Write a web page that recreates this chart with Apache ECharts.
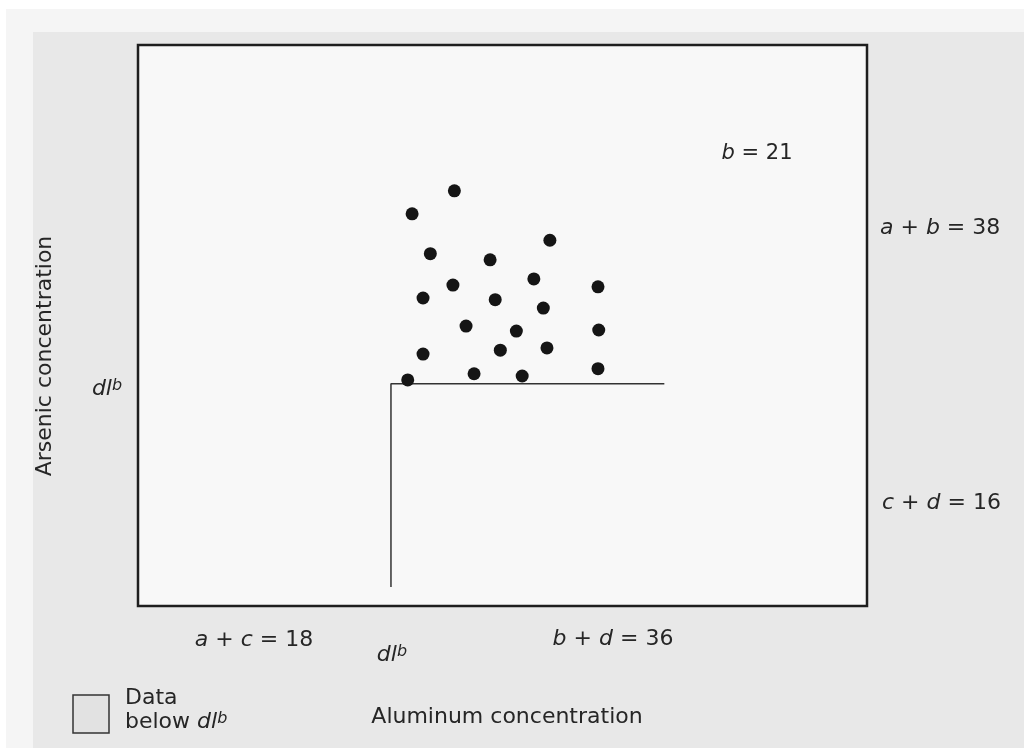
<!DOCTYPE html>
<html>
<head>
<meta charset="utf-8">
<title>Arsenic vs aluminum concentration</title>
<script src="https://cdn.jsdelivr.net/npm/echarts@6/dist/echarts.min.js"></script>
<style>
  html, body { margin: 0; padding: 0; background: #fff; }
  #chart { width: 1024px; height: 748px; }
</style>
</head>
<body>
<div id="chart"></div>
<script>
// samples above the detection limit on both axes (axes scaled 0-100)
const aluminum = [43.4, 37.6, 40.1, 48.3, 56.5, 43.2, 39.1, 49.0, 54.3, 55.6, 63.1,
  45.0, 51.9, 63.2, 39.1, 49.7, 56.1, 37.0, 46.1, 52.7, 63.1]
const arsenic = [74.0, 69.9, 62.8, 61.7, 65.2, 57.2, 54.9, 54.6, 58.3, 53.1, 56.9,
  49.9, 49.0, 49.2, 44.9, 45.6, 46.0, 40.3, 41.4, 41.0, 42.3]

// detection limits and where the guide lines stop
const dlAluminum = 34.7
const dlArsenic = 39.6
const dlLineRight = 72.2
const dlLineBottom = 3.4

// cell counts of the 2x2 table
const countA = 17
const countB = 21
const countC = 1
const countD = 15

const FONT = 'DejaVu Sans'
const INK = '#262626'

const rich = {
  i: { fontFamily: FONT, fontSize: 22, fontStyle: 'italic', fill: INK },
  n: { fontFamily: FONT, fontSize: 22, fill: INK },
  si: { fontFamily: FONT, fontSize: 21, fontStyle: 'italic', fill: INK },
  sn: { fontFamily: FONT, fontSize: 21, fill: INK },
  sup: { fontFamily: FONT, fontSize: 16, fontStyle: 'italic', fill: INK, verticalAlign: 'top' }
}

const chart = echarts.init(document.getElementById('chart'))

// text helper for graphic labels
const label = (id, x, y, text, align) => ({
  type: 'text',
  id: id,
  x: x,
  y: y,
  z: 10,
  style: {
    text: text,
    rich: rich,
    font: '22px ' + FONT,
    fill: INK,
    align: align || 'center',
    verticalAlign: 'middle'
  }
})

const option = {
  backgroundColor: '#ffffff',
  animation: false,
  grid: {
    left: 138,
    top: 45,
    right: 157,
    bottom: 142,
    show: true,
    backgroundColor: '#f8f8f8',
    borderColor: '#1e1e1e',
    borderWidth: 2.5
  },
  xAxis: {
    type: 'value',
    min: 0,
    max: 100,
    axisLine: { show: false },
    axisTick: { show: false },
    axisLabel: { show: false },
    splitLine: { show: false }
  },
  yAxis: {
    type: 'value',
    min: 0,
    max: 100,
    axisLine: { show: false },
    axisTick: { show: false },
    axisLabel: { show: false },
    splitLine: { show: false }
  },
  series: [
    {
      name: 'dl',
      type: 'line',
      symbol: 'none',
      data: [[dlLineRight, dlArsenic], [dlAluminum, dlArsenic], [dlAluminum, dlLineBottom]],
      lineStyle: { color: '#333', width: 1.5 },
      z: 3
    },
    {
      name: 'samples',
      type: 'scatter',
      symbolSize: 13,
      data: aluminum.map((v, i) => [v, arsenic[i]]),
      itemStyle: { color: '#151515', opacity: 1 },
      z: 4
    }
  ]
}
chart.setOption(option)

// place the dl labels from the axis scales
const dlPx = chart.convertToPixel({ gridIndex: 0 }, [dlAluminum, dlArsenic])
const dlText = '{i|dl}{sup|b}'

chart.setOption({
  graphic: [
    // scanned page background
    { type: 'rect', id: 'page', z: -6, shape: { x: 6, y: 9, width: 1018, height: 739 }, style: { fill: '#f5f5f5' } },
    { type: 'rect', id: 'scan', z: -5, shape: { x: 33, y: 32, width: 991, height: 716 }, style: { fill: '#e8e8e8' } },
    label('cellB', 757, 154, `{si|b}{sn| = ${countB}}`),
    label('rowTop', 880, 228, `{i|a}{n| + }{i|b}{n| = ${countA + countB}}`, 'left'),
    label('rowBottom', 882, 503, `{i|c}{n| + }{i|d}{n| = ${countC + countD}}`, 'left'),
    label('colLeft', 254, 640, `{i|a}{n| + }{i|c}{n| = ${countA + countC}}`),
    label('colRight', 613, 639, `{i|b}{n| + }{i|d}{n| = ${countB + countD}}`),
    label('dlX', dlPx[0] + 1, 655, dlText),
    label('dlY', 107, dlPx[1] + 5, dlText),
    label('xTitle', 507, 717, '{n|Aluminum concentration}'),
    {
      type: 'text',
      id: 'yTitle',
      x: 45,
      y: 356,
      rotation: Math.PI / 2,
      z: 10,
      style: {
        text: 'Arsenic concentration',
        font: '22px ' + FONT,
        fill: INK,
        align: 'center',
        verticalAlign: 'middle'
      }
    },
    // legend
    { type: 'rect', id: 'legendBox', z: 10, shape: { x: 73, y: 695, width: 36, height: 38 },
      style: { fill: '#e2e2e2', stroke: '#333', lineWidth: 1.5 } },
    label('legend1', 125, 698, '{n|Data}', 'left'),
    label('legend2', 125, 722, '{n|below }{i|dl}{sup|b}', 'left')
  ]
})
</script>
</body>
</html>
